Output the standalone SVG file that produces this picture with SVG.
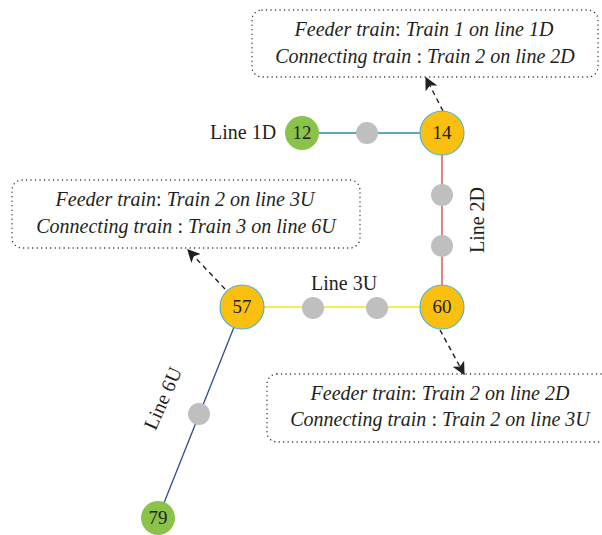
<svg xmlns="http://www.w3.org/2000/svg" width="602" height="535" viewBox="0 0 602 535">
<style>
text{font-family:"Liberation Serif","DejaVu Serif",serif;fill:#231f20}
.box{fill:none;stroke:#231f20;stroke-width:1.3;stroke-dasharray:0.1 4.4;stroke-linecap:round}
.note{font-size:20px;font-style:italic;text-anchor:middle}
.lbl{font-size:20px}
.num{font-size:19px;text-anchor:middle}
.hub{fill:#fbbf10;stroke:#4db3d6;stroke-width:1.2}
.end{fill:#8bc34a}
.mid{fill:#bfbfbf}
.arr{stroke:#231f20;stroke-width:1.4;stroke-dasharray:5 4;fill:none}
</style>
<defs>
<marker id="ah" viewBox="0 0 10 10" refX="9" refY="5" markerWidth="13" markerHeight="13" markerUnits="userSpaceOnUse" orient="auto">
<path d="M0,0 L10,5 L0,10 L2.5,5 Z" fill="#231f20"/>
</marker>
</defs>
<g id="connectors">
<line x1="302" y1="133" x2="442" y2="133" stroke="#2a8aa8" stroke-width="1.3"/>
<line x1="442" y1="133" x2="442" y2="307" stroke="#d9413a" stroke-width="1.3"/>
<line x1="242" y1="307" x2="442" y2="307" stroke="#f5e616" stroke-width="1.5"/>
<line x1="242" y1="307" x2="158" y2="518" stroke="#2b4e8a" stroke-width="1.3"/>
<line class="arr" x1="443" y1="111" x2="426" y2="78" marker-end="url(#ah)"/>
<line class="arr" x1="225" y1="289" x2="188" y2="250" marker-end="url(#ah)"/>
<line class="arr" x1="440" y1="330" x2="464" y2="374" marker-end="url(#ah)"/>
</g>
<g id="box14">
<rect class="box" x="252" y="10" width="346" height="67" rx="10"/>
<text class="note" x="424" y="36">Feeder train<tspan font-style="normal">:</tspan> Train 1 on line 1D</text>
<text class="note" x="425" y="63">Connecting train <tspan font-style="normal">:</tspan> Train 2 on line 2D</text>
</g>
<g id="box57">
<rect class="box" x="12" y="180" width="348" height="68" rx="10"/>
<text class="note" x="185" y="206">Feeder train<tspan font-style="normal">:</tspan> Train 2 on line 3U</text>
<text class="note" x="186" y="233">Connecting train <tspan font-style="normal">:</tspan> Train 3 on line 6U</text>
</g>
<g id="box60">
<rect class="box" x="267" y="374" width="346" height="68" rx="10"/>
<text class="note" x="440" y="400">Feeder train<tspan font-style="normal">:</tspan> Train 2 on line 2D</text>
<text class="note" x="440" y="426">Connecting train <tspan font-style="normal">:</tspan> Train 2 on line 3U</text>
</g>
<g id="labels">
<text class="lbl" x="210" y="139">Line 1D</text>
<text class="lbl" x="311" y="290">Line 3U</text>
<text class="lbl" transform="translate(484,220) rotate(-90)" text-anchor="middle">Line 2D</text>
<text class="lbl" transform="translate(169,401) rotate(-66)" text-anchor="middle">Line 6U</text>
</g>
<g id="stops">
<circle class="mid" cx="367" cy="133" r="11"/>
<circle class="mid" cx="442" cy="195" r="11"/>
<circle class="mid" cx="442" cy="246" r="11"/>
<circle class="mid" cx="313" cy="308" r="11"/>
<circle class="mid" cx="377" cy="308" r="11"/>
<circle class="mid" cx="199" cy="414" r="11"/>
</g>
<g id="n12"><circle class="end" cx="302" cy="133" r="17"/><text class="num" x="302" y="139">12</text></g>
<g id="n14"><circle class="hub" cx="442" cy="133" r="22"/><text class="num" x="442" y="139">14</text></g>
<g id="n57"><circle class="hub" cx="242" cy="307" r="22"/><text class="num" x="242" y="313">57</text></g>
<g id="n60"><circle class="hub" cx="442" cy="307" r="22"/><text class="num" x="442" y="313">60</text></g>
<g id="n79"><circle class="end" cx="158" cy="518" r="17"/><text class="num" x="158" y="524">79</text></g>
</svg>
